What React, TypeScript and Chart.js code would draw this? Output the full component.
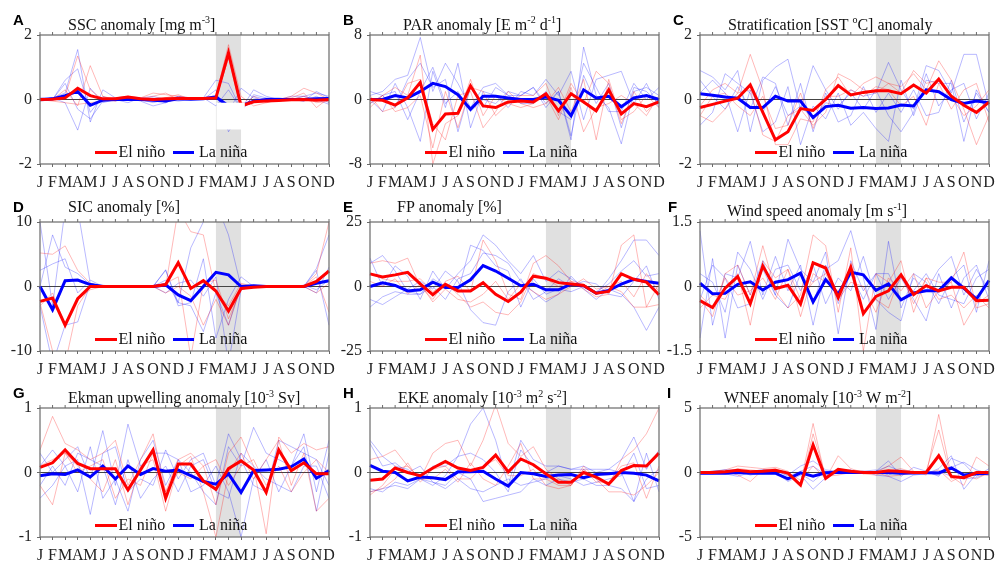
import React, { useEffect, useRef } from "react";
import { Chart, registerables } from "chart.js";

Chart.register(...registerables);

const MONTHS = ["J","F","M","A","M","J","J","A","S","O","N","D","J","F","M","A","M","J","J","A","S","O","N","D"];

// ---------- A: SSC ----------
const A_EL = [0, 0.01, 0.05, 0.35, 0.12, 0.02, 0.02, 0.08, 0.02, 0, 0.02, 0.03, 0.03, 0.03, 0.05, 1.45, -0.2, -0.07, -0.05, -0.03, -0.01, 0, -0.02, 0];
const A_LA = [0, 0.02, 0.12, 0.25, -0.18, -0.02, 0, 0, 0, -0.02, -0.05, 0.02, 0.01, 0.02, 0.08, -0.2, -0.2, -0.05, 0, 0, 0, 0, 0.02, 0.03];
const A_EL_EVENTS = [
  [0, 0.05, 0.1, 1.35, 0.3, 0, -0.05, 0.1, 0.05, 0.2, 0.15, 0.1, 0.05, 0.05, 0.1, 1.7, 0.1, -0.2, -0.1, 0, 0.1, 0.35, 0.2, 0],
  [-0.05, 0, 0.3, -0.2, 1.05, 0.1, 0, 0.05, 0, 0.1, 0.2, 0, 0.05, 0, 0.05, 1.3, -0.1, -0.1, 0, -0.05, 0, 0.1, -0.1, -0.05],
  [0, -0.05, -0.1, -0.15, -0.1, -0.05, 0.05, 0.1, 0, -0.05, 0.05, 0.15, 0, 0.05, 0, 1.3, -0.3, 0.1, -0.1, 0, 0.05, 0.2, -0.25, 0.05],
];
const A_LA_EVENTS = [
  [0, 0.05, 0.2, 1.55, -0.7, 0.3, 0.05, 0, 0, 0.05, -0.1, 0.1, 0, 0.05, 0.6, 0.5, -0.3, 0.3, 0.1, 0, 0, 0.1, 0.2, 0.1],
  [0.05, 0, 0.6, 0.95, -0.4, 0.1, -0.05, 0.05, -0.05, -0.2, -0.1, 0.05, 0.05, 0, 0.3, -1.0, -0.4, 0.15, 0.05, 0.05, 0, -0.05, 0.1, -0.1],
  [0, 0.05, -0.1, -0.95, 0.35, -0.1, 0, -0.1, 0.05, 0.1, 0, -0.05, 0, 0.05, -0.2, 0.3, -0.3, 0.1, 0, 0, 0.1, 0.1, 0, -0.15],
  [-0.05, 0, 0.5, -0.3, -0.6, -0.05, 0, 0.05, 0, -0.1, 0, 0.1, 0.05, 0, 0.1, -0.4, 0.35, 0.05, -0.05, 0, 0, -0.05, 0.25, 0.05],
];

// ---------- B: PAR ----------
const B_EL = [0, -0.1, -0.7, 0.2, 2.1, -3.7, -1.8, -1.7, 1.7, -0.8, -1.0, -0.3, -0.2, -0.3, 0.7, -1.4, 0.7, -0.3, -1.4, 1.2, -1.8, -0.5, -0.9, -0.3];
const B_LA = [0, 0, 0.5, 0.2, 1.0, 2.0, 1.6, 0.6, -1.2, 0.4, 0.4, 0.2, 0, 0, 0.3, -0.1, -2.0, 1.2, 0.2, 0.4, -0.9, 0.2, 0.5, 0];
const B_EL_EVENTS = [
  [-1, 0.5, 1.5, 0.5, 5.5, -8, -3, -2, 2.5, -2, 0.5, -0.5, 0.5, 0.5, 2, -2, 2, -0.5, 3.5, 2, -3, 1, -1.5, 0],
  [0.5, -1.5, -1, 2, 2.5, -3, -5, 0.5, 1, -3.5, -1.5, 1, -0.5, -1, -0.5, 1.5, -1.5, 2.5, -5, 2.5, -2.5, -1.5, 0.5, -1],
  [-0.5, 0.5, -1.5, -1, 0.5, -6, 1, -3.5, 1.5, 1, -2, -0.5, -1, -0.5, 0.5, -2.5, 1.5, -4, -1, -0.5, 0.5, -0.5, -2, 0.5],
];
const B_LA_EVENTS = [
  [0.5, 1, 2.5, 3, 7.7, 1, 4.5, 2, -1, 1.5, 2, 0.5, 0.5, 1.5, -1, 1, -5, 6.5, 0.5, -1, -5.5, 1, 1.5, 0.5],
  [0, -1.5, 2, -1, -5.2, 3.5, -1, 4.5, -3.5, 1, 0.5, -1, 1, 0.5, 2.5, 0.5, 3.5, -2.5, 2.5, 3, 3.5, -0.5, 2, -1],
  [1, 0.5, -1, 2.5, 4.5, 1.5, 2.5, -4, 1.5, -1, 1.5, 0.5, -0.5, -0.5, 1, -1.5, -2.5, 4.5, 1.5, -1.5, -1.5, 2, 0, 1.5],
  [-0.5, 0.5, 1, -2.5, 1, 4, -0.5, 1, -1.5, 0, -0.5, 1, 0.5, 1.5, -0.5, 1, -4.5, 3, -0.5, 2, -3.5, 1.5, 1, -0.5],
];

// ---------- C: Stratification ----------
const C_EL = [-0.25, -0.15, -0.05, 0.04, 0.45, -0.4, -1.25, -1.0, -0.28, -0.34, 0, 0.43, 0.14, 0.22, 0.27, 0.27, 0.18, 0.45, 0.2, 0.63, 0.1, -0.18, -0.4, -0.08];
const C_LA = [0.18, 0.13, 0.08, 0.04, -0.25, -0.25, 0.1, -0.05, -0.05, -0.56, -0.22, -0.18, -0.27, -0.25, -0.28, -0.26, -0.17, -0.2, 0.3, 0.24, 0, -0.12, -0.05, -0.1];
const C_EL_EVENTS = [
  [-0.5, -0.7, -0.3, 0.2, 1.4, 0.3, -1.4, -1.4, -0.6, -0.7, 0.3, 0.7, 0.1, 0.5, 0.7, 0.5, 0.4, 0.8, 0.3, 1.2, 0.6, -0.3, -1.4, -0.5],
  [-0.2, 0.3, 0.5, 0.2, 0.3, -1.1, -1.3, -0.5, -0.3, -0.8, -0.4, 0.8, 0.6, 0.3, 0.2, 0.5, 0.2, 0.9, 0.5, 0.6, 0.1, -0.5, -0.2, 0.3],
  [-0.5, 0.1, 0.2, -0.2, -0.5, 0.1, -0.9, -0.8, 0.2, -0.9, 0.1, 0.1, 0.3, 0.1, 0.4, 0.3, -0.2, 0.1, -0.8, 0.5, -0.3, 0.3, 0.5, -0.7],
];
const C_LA_EVENTS = [
  [0.9, 0.7, 0.3, 0.9, -1.0, 0.6, 1.0, 1.25, -0.3, 1.05, 0.3, -0.3, 0.3, 0.1, 0.2, 1.15, 0.3, -0.3, 1.05, 0.9, 0.2, 1.4, 1.4, -0.2],
  [-0.8, -0.4, 0.8, 0.5, 0.2, -1.0, -0.7, 0.4, -1.4, -0.2, -0.6, 0.2, -0.8, -0.4, -0.9, -1.3, 0.6, -0.5, 0.6, 0.5, 0.5, -1.3, 0.3, -0.4],
  [0.2, 0.6, 0.2, -1.0, 0.3, -0.4, 0.4, -0.5, -0.2, -0.6, -0.1, -0.2, 0.2, -0.3, 0.3, -0.5, -1.0, -0.4, 0.8, -0.2, 0.3, 0.5, -0.6, 0.2],
  [0.6, 0.1, -0.3, 0.4, -0.3, 0.7, 0.5, -0.8, 0.5, -1.0, 0.2, -0.7, -0.5, 0.4, -0.4, 0.2, -0.4, 0.3, -0.5, -0.4, 0.6, -0.7, 0.2, -0.4],
];

// ---------- D: SIC ----------
const D_EL = [-2.3, -1.8, -6.0, -1.9, 0, 0, 0, 0, 0, 0, 0.3, 3.7, -0.3, 0.9, -0.7, -3.8, -0.3, -0.1, 0, 0, 0, 0, 0.8, 2.4];
const D_LA = [0, -3.6, 0.9, 1.0, 0.3, 0, 0, 0, 0, 0, 0.25, -1.3, -2.2, 0, 2.2, 1.8, 0, 0.1, 0, 0, 0, 0, 0.5, 0.9];
const D_EL_EVENTS = [
  [5.2, 5.0, 6.3, 2.5, 0.5, 0, 0, 0, 0, 0, 0, 12, 8.5, 8.0, -1, -3, 0.5, 0, 0, 0, 0, 0, 2, 10],
  [-2.5, -10, -12, -3, 0, 0, 0, 0, 0, 0, 0.5, 1.5, -11, 0.5, 1, -5, -0.5, 0, 0, 0, 0, 0, -1, 0.5],
  [-3, -1, -6, -2, -0.5, 0, 0, 0, 0, 0, -1, 0, -1.5, -6, -2, -6, 0.3, 0, 0, 0, 0, 0, 1.5, -4],
];
const D_LA_EVENTS = [
  [10, -3, 12, 12, 0.5, 0, 0, 0, 0, 0, 2.5, -2.5, 6, 10, 13, 8, 0, 0, 0, 0, 0, 0, 2.8, 8],
  [2.5, 3.5, 4.3, -1, 1, 0, 0, 0, 0, 0, 2.6, -3, -2.5, 4.3, -8, -2, 1.5, 0, 0, 0, 0, 0, 2.5, -6],
  [-3, -12, -6, -5.5, 0.5, 0, 0, 0, 0, 0, -1, 0.5, 1, -1.5, 1.5, -12, -0.5, 0, 0, 0, 0, 0, -1, 3],
  [0, 8, 3, 2, 0.3, 0.2, 0, 0, 0, 0, 1, -2.5, -3, -7, -1, -6, 0, 0, 0, 0, 0, 0.2, -0.5, 1],
];

// ---------- E: FP ----------
const E_EL = [4.9, 3.7, 4.5, 5.5, 1, -3.2, 0.9, -1.7, -1.7, 1.5, -3, -5.8, -2.2, 4, 3.2, 1.5, 1, 0.4, -2.6, -1.9, 4.9, 2.8, 1.7, -3.2];
const E_LA = [0, 1.4, 0.4, -1.7, -1.3, 1.7, -0.4, -0.4, 2.6, 8.1, 6, 3.2, 0.3, 0.9, -1.3, -1.3, 0.9, 0.3, -2.6, -1.5, 0.9, 2.8, 1.9, 1.3];
const E_EL_EVENTS = [
  [9, 10, 9, 11, 0, -5, 2, 4, -2, 18, 10, -3, -5, 9, 12, 8, 2, -1, -4, -3, 16, 20, -8, -7],
  [5, 3, 2, 2, 3, -2, 1, -3, -8, -6, -10, -11, -6, 5, 3, 0, 2, 1, -3, 0, 2, -4, 5, -2],
  [2, 0, 3, -3, 1, -6, -1, -5, -6, -3, 2, -5, 1, -2, -5, -3, 0, 3, -1, 0, -2, -8, -8, 1],
];
const E_LA_EVENTS = [
  [11, 0, 8, 4, -5, 6, -1, 5, 10, 20, 16, 10, 5, 12, 2, 6, 3, 0, -3, 3, 10, 18, 18, 12],
  [-8, -4, -2, -3, -3, 0, -5, 3, 5, 13, 12, 9, 2, -2, -6, -3, 4, -1, -5, -1, -3, -8, -17, -8],
  [9, 12, 6, -2, -3, 3, 0, -2, 16, 14, 8, 6, -8, 3, -3, -1, -2, 0, -2, 1, 6, 10, 4, 5],
  [-5, -7, -4, -1, 2, -1, 6, 2, -9, -14, -15, -2, 3, -5, -2, 3, 0, 2, 1, -3, -4, 2, 8, -5],
];

// ---------- F: Wind speed ----------
const F_EL = [-0.33, -0.49, -0.04, 0.23, -0.4, 0.48, -0.05, 0.03, -0.41, 0.55, 0.43, -0.26, 0.45, -0.63, -0.23, -0.1, 0.27, -0.19, 0.02, -0.1, -0.02, -0.02, -0.33, -0.32];
const F_LA = [0.08, -0.17, -0.16, 0.05, 0.11, -0.08, 0.1, 0.16, 0.31, -0.36, 0.16, -0.18, 0.33, 0.27, -0.09, 0.06, -0.31, -0.15, -0.1, -0.1, 0.2, -0.04, -0.29, 0.14];
const F_EL_EVENTS = [
  [-0.3, -0.7, 0.3, 0.5, -0.2, 0.95, -0.1, -0.5, -0.2, 1.2, 0.95, -0.6, 0.9, -1.5, 0.3, 0.1, 0.6, -0.6, 0.2, 0.1, 0.1, 0.8, -0.5, -0.4],
  [-0.5, -0.2, -0.3, 0.3, -0.9, 0.6, 0.2, 0.4, -0.7, 0.3, 0.1, -0.1, 0.3, -0.6, -0.3, -0.5, 0.3, -0.4, 0.2, -0.3, -0.2, -0.5, -0.2, -0.5],
  [-0.2, -0.5, 0.2, -0.2, -0.1, 0.2, -0.3, 0.4, -0.3, 0.1, 0.3, -0.3, 0.1, 0, -0.6, 0.2, -0.1, 0.3, -0.5, -0.1, 0.1, -0.9, -0.4, -0.2],
];
const F_LA_EVENTS = [
  [1.3, -0.9, 0.3, 0.2, 1.05, -0.2, 0.7, -0.1, 0.5, -0.9, 0.4, 0.6, 1.3, 0.2, -1.0, 1.05, -0.5, 0.2, -0.1, 0.4, 0.7, -0.2, 0.4, -0.1],
  [-1.2, 0.65, -1.2, 0.5, -0.2, 0.6, -0.2, 1.1, 0.4, 0.1, 0.8, -1.1, 0.6, -0.1, 0.3, -0.3, 0.2, -0.3, -0.8, 0.3, -0.5, 0.2, 0.5, -0.3],
  [0.3, 0.1, -0.6, 0.8, 0.4, -0.3, 0.4, 0.5, -0.1, 0.5, -0.4, 0.2, -0.1, 0.7, -0.3, -0.6, -0.8, 0.3, 0.1, -0.4, 0.2, 0.5, -0.6, 0.6],
  [-0.3, 0.5, 0.2, -0.5, -0.4, 0.4, -0.2, -0.5, 0.3, -0.4, 0.5, -0.4, 0.3, -0.3, 0.3, 0.3, -0.3, -0.1, 0.3, -0.2, -0.3, -0.4, 0.2, 0.4],
];

// ---------- G: Ekman upwelling ----------
const G_EL = [0.08, 0.15, 0.35, 0.14, 0.06, 0.06, 0.06, -0.27, 0.04, 0.35, -0.4, 0.13, 0.13, -0.13, -0.26, 0.06, 0.18, 0.04, -0.31, 0.35, 0.03, 0.15, -0.02, -0.02];
const G_LA = [-0.05, -0.02, -0.03, 0.04, -0.07, 0.1, -0.1, 0.1, -0.03, 0.06, 0.02, 0.04, -0.05, -0.14, -0.18, -0.02, -0.31, 0.03, 0.04, 0.05, 0.09, 0.21, -0.09, 0.03];
const G_EL_EVENTS = [
  [0.35, 0.87, 0.45, 0.35, 0.2, 0.3, 0.5, -0.2, 0.2, 0.6, -0.3, 0.2, 0.3, 0.1, -0.5, 0.3, 0.55, 0.1, -0.95, 0.55, 0.3, 0.45, 0.35, 0.4],
  [-0.2, -0.5, 0.3, 0.1, -0.1, -0.3, 0.2, -0.5, 0.1, 0.2, -0.6, 0.1, 0.25, -0.3, -1.0, 0, 0.3, -0.1, 0.2, 0.5, -0.2, 0.3, -0.6, -0.4],
  [0.1, 0.2, 0.3, 0, 0.1, 0.2, -0.4, -0.1, -0.2, 0.3, -0.3, 0, -0.1, 0.1, 0.2, -0.2, 0.1, 0.2, -0.2, 0.1, -0.3, 0, 0.2, 0],
];
const G_LA_EVENTS = [
  [0.3, 0, 0.2, 0.4, -0.1, 0.65, -0.2, 0.75, 0.1, 0.3, 0.3, 0.2, 0, -0.3, -0.5, 0.4, 0.1, 0.7, 0.3, 0.2, 0.1, 0.6, -0.3, 0.5],
  [-0.4, -0.2, 0.1, -0.3, 0.4, -0.4, -0.1, -0.6, 0.2, 0.5, -0.2, 0.2, -0.3, -0.2, 0.1, -0.3, -1.0, -0.1, 0.2, -0.3, 0.1, 0.4, -0.6, 0.3],
  [0.1, 0.35, 0.1, 0.2, -0.65, 0.3, 0.4, -0.3, -0.1, -0.2, 0.35, -0.1, 0.2, 0.3, -0.2, 0.6, 0.2, -0.2, -0.3, 0.5, 0.4, 0.3, 0.2, -0.2],
  [-0.2, 0.1, -0.2, 0.3, 0.2, 0.1, -0.5, 0.2, -0.4, -0.1, 0.1, -0.3, 0.1, 0.2, -0.3, -0.4, 0.3, 0.1, -0.1, -0.2, -0.3, 0.1, 0.1, -0.4],
];

// ---------- H: EKE ----------
const H_EL = [-0.12, -0.1, 0.07, 0, -0.05, 0.07, 0.17, 0.07, 0.03, 0.08, 0.27, 0.01, 0.21, 0.12, -0.02, -0.15, -0.15, 0, -0.07, -0.18, 0.03, 0.11, 0.1, 0.3];
const H_LA = [0.11, 0.02, 0, -0.13, -0.07, -0.08, -0.11, 0.01, 0.01, 0.02, -0.1, -0.21, 0, -0.02, -0.06, -0.04, -0.03, -0.08, -0.03, -0.02, 0, -0.01, -0.04, -0.13];
const H_EL_EVENTS = [
  [0.2, 0.25, 0.35, 0.1, -0.1, 0.3, 0.45, 0.5, 0.1, 0.5, 1.05, 0.45, 0.25, 0.4, 0.05, -0.1, -0.2, 0.1, -0.1, -0.2, 0.2, 0.35, 0.6, 1.0],
  [-0.35, -0.2, 0.05, 0.1, -0.1, -0.1, 0.05, -0.15, 0.15, -0.1, -0.2, 0.1, 0.45, -0.1, -0.1, -0.2, -0.2, 0.05, -0.1, -0.3, -0.3, -0.35, -0.2, 0],
  [-0.3, -0.25, -0.1, 0.15, -0.15, 0.05, 0.1, -0.1, -0.1, 0.1, 0.2, -0.05, -0.05, 0.05, -0.2, -0.25, -0.2, 0.05, -0.15, -0.15, 0.1, 0.15, -0.4, 0.1],
];
const H_LA_EVENTS = [
  [0.5, 0.25, 0.1, 0.05, -0.1, 0.1, 0.1, 0.25, 0.75, 1.0, 0.5, -0.2, 0.5, 0.2, 0.1, 0.1, 0.05, 0.1, 0, 0.05, 0.2, 0.55, 0.05, 0.35],
  [-0.25, -0.3, -0.15, -0.2, -0.1, -0.2, -0.05, 0.25, 0.3, 0.2, 0, -0.3, 0.35, 0.1, 0, 0.1, 0.05, 0.05, 0.05, 0.05, 0, -0.45, 0.3, -0.3],
  [0.45, 0.1, 0.15, 0, 0.1, -0.15, -0.2, 0, -0.1, -0.45, -0.4, -0.35, -0.3, -0.1, -0.2, -0.1, -0.15, -0.1, -0.2, -0.2, -0.25, -0.45, -0.1, 0.05],
  [-0.3, -0.25, -0.2, -0.25, -0.1, -0.15, -0.25, -0.1, -0.25, -0.3, -0.2, -0.1, -0.2, -0.15, -0.1, -0.05, -0.1, -0.2, -0.15, -0.1, -0.05, 0.3, -0.25, -0.2],
];

// ---------- I: WNEF ----------
const I_EL = [0, 0, 0.05, 0.18, 0.05, 0.1, 0.18, -0.05, -0.97, 2.15, -0.45, 0.25, 0.1, 0, 0, 0.13, 0.08, 0, 0, 1.3, -0.3, -0.4, 0, 0];
const I_LA = [-0.05, -0.05, -0.05, 0, -0.05, -0.05, -0.05, -0.5, -0.03, -0.28, -0.02, 0.02, 0, 0, 0, 0, -0.05, -0.03, -0.02, -0.03, 0.36, -0.2, -0.1, -0.05];
const I_EL_EVENTS = [
  [0, 0.05, 0.2, 0.5, 0.4, 0.3, 0.4, 0.1, -0.9, 3.8, -0.5, 1.3, 0.3, 0, 0, 0.5, 1.2, 0.1, -0.2, 4.5, -0.3, -1.0, 1.2, 0.5],
  [0, 0.1, 0.1, -0.2, -0.7, 0.2, 0.3, -0.2, -1.1, 3.0, -0.3, -0.2, 0, 0.1, 0, -0.3, -0.2, 0, 0.1, 3.3, -0.5, -0.3, -0.2, -0.2],
  [0, -0.1, 0, 0.3, 0.2, 0.1, 0, 0, -0.6, 0.5, -0.5, 0.2, 0.1, -0.1, -0.2, 0.1, 0.3, 0, -0.1, 0.2, -0.7, -0.2, -0.5, 0],
];
const I_LA_EVENTS = [
  [0, 0.1, 0.2, 0, 0.1, 0.2, 0.1, -0.2, 0.5, 0.9, 0.2, 0.1, 0.2, -0.1, 0.1, 0.9, -0.3, 0.4, 0.1, -0.3, 1.1, 0.7, -0.3, 0.3],
  [-0.1, 0, -0.1, -0.3, 0, -0.1, 0, -0.7, -0.2, -1.3, -0.4, 0, 0.1, 0.1, -0.2, -0.3, -0.7, -0.2, -0.1, 0.3, 1.3, -1.3, -0.1, -0.2],
  [0, 0.1, 0.2, 0.2, 0.1, 0.2, 0.2, -0.3, 0.1, 0.5, -0.2, 0.1, 0, 0.1, 0.2, -0.2, 0.2, 0, 0, -0.2, 0.4, 0.8, 0.2, -0.1],
  [-0.1, -0.1, 0, 0.1, -0.2, 0, -0.1, -0.5, -0.1, -0.7, 0.1, -0.1, 0, 0, 0.1, 0.5, 0.1, -0.1, 0, 0.1, -0.3, -0.5, -0.4, 0],
];

const AXIS_MAX = { A: 2, B: 8, C: 2, D: 10, E: 25, F: 1.5, G: 1, H: 1, I: 5 };

type Seg = [string, boolean];
const TITLES: Record<string, Seg[]> = {
  A: [["SSC anomaly [mg m", false], ["-3", true], ["]", false]],
  B: [["PAR anomaly [E m", false], ["-2", true], [" d", false], ["-1", true], ["]", false]],
  C: [["Stratification [SST ", false], ["o", true], ["C] anomaly", false]],
  D: [["SIC anomaly [%]", false]],
  E: [["FP anomaly [%]", false]],
  F: [["Wind speed anomaly [m s", false], ["-1", true], ["]", false]],
  G: [["Ekman upwelling anomaly [10", false], ["-3", true], [" Sv]", false]],
  H: [["EKE anomaly [10", false], ["-3", true], [" m", false], ["2", true], [" s", false], ["-2", true], ["]", false]],
  I: [["WNEF anomaly [10", false], ["-3", true], [" W m", false], ["-2", true], ["]", false]],
};

const PANELS = [
  { id: "A", col: 0, row: 0, el: A_EL, la: A_LA, elEv: A_EL_EVENTS, laEv: A_LA_EVENTS, tx: 28, ty: 5.5, lx: 13, mask: true },
  { id: "B", col: 1, row: 0, el: B_EL, la: B_LA, elEv: B_EL_EVENTS, laEv: B_LA_EVENTS, tx: 33, ty: 5.5, lx: 13, mask: false },
  { id: "C", col: 2, row: 0, el: C_EL, la: C_LA, elEv: C_EL_EVENTS, laEv: C_LA_EVENTS, tx: 28, ty: 5.5, lx: 13, mask: false },
  { id: "D", col: 0, row: 1, el: D_EL, la: D_LA, elEv: D_EL_EVENTS, laEv: D_LA_EVENTS, tx: 28, ty: 10, lx: 13, mask: false },
  { id: "E", col: 1, row: 1, el: E_EL, la: E_LA, elEv: E_EL_EVENTS, laEv: E_LA_EVENTS, tx: 27, ty: 10, lx: 13, mask: false },
  { id: "F", col: 2, row: 1, el: F_EL, la: F_LA, elEv: F_EL_EVENTS, laEv: F_LA_EVENTS, tx: 27, ty: 6, lx: 8, mask: false },
  { id: "G", col: 0, row: 2, el: G_EL, la: G_LA, elEv: G_EL_EVENTS, laEv: G_LA_EVENTS, tx: 28, ty: 5, lx: 13, mask: false },
  { id: "H", col: 1, row: 2, el: H_EL, la: H_LA, elEv: H_EL_EVENTS, laEv: H_LA_EVENTS, tx: 28, ty: 5, lx: 13, mask: false },
  { id: "I", col: 2, row: 2, el: I_EL, la: I_LA, elEv: I_EL_EVENTS, laEv: I_LA_EVENTS, tx: 24, ty: 5, lx: 7, mask: false },
];

const COL_X = [40, 370, 700];
const ROW_Y = [35, 222, 408];
const AXIS_W = 40;
const TOP_PAD = 35;
const RIGHT_PAD = 14;
const PLOT_W = 289;
const PLOT_H = 129;
const X_AXIS_H = 24;
const CW = AXIS_W + PLOT_W + RIGHT_PAD;
const CH = TOP_PAD + PLOT_H + X_AXIS_H;

const SERIF = '"Liberation Serif", "Times New Roman", Times, serif';
const RED = "#ff0000";
const BLUE = "#0000ff";
const RED_THIN = "rgba(255,0,0,0.28)";
const BLUE_THIN = "rgba(0,0,255,0.28)";
const FRAME = "#6a6a6a";

function Panel({ p }: { p: any }) {
  const ref = useRef<HTMLCanvasElement | null>(null);
  useEffect(() => {
    if (!ref.current) return;
    const max = (AXIS_MAX as any)[p.id];
    const datasets: any[] = [
      { label: "El niño", data: p.el, borderColor: RED, borderWidth: 3 },
      { label: "La niña", data: p.la, borderColor: BLUE, borderWidth: 3 },
      ...p.elEv.map((d: number[], i: number) => ({ label: "El niño event " + (i + 1), data: d, borderColor: RED_THIN, borderWidth: 1 })),
      ...p.laEv.map((d: number[], i: number) => ({ label: "La niña event " + (i + 1), data: d, borderColor: BLUE_THIN, borderWidth: 1 })),
    ].map((ds) => ({ ...ds, pointRadius: 0, tension: 0, fill: false, borderJoinStyle: "miter" }));

    const deco = {
      id: "deco" + p.id,
      beforeDatasetsDraw(chart: any) {
        const { ctx, chartArea: a, scales } = chart;
        const x = scales.x, y = scales.y;
        ctx.save();
        ctx.fillStyle = "#e0e0e0";
        const x0 = x.getPixelForValue(14), x1 = x.getPixelForValue(16);
        ctx.fillRect(x0, a.top, x1 - x0, a.bottom - a.top);
        const y0 = y.getPixelForValue(0);
        ctx.strokeStyle = "#444";
        ctx.lineWidth = 1.2;
        ctx.beginPath();
        ctx.moveTo(a.left, y0);
        ctx.lineTo(a.right, y0);
        ctx.stroke();
        ctx.restore();
      },
      afterDatasetsDraw(chart: any) {
        const { ctx, chartArea: a, scales } = chart;
        const x = scales.x, y = scales.y;
        ctx.save();
        if (p.mask) {
          const mx0 = x.getPixelForValue(14.05), mx1 = x.getPixelForValue(16.3);
          const my0 = y.getPixelForValue(-0.1), my1 = y.getPixelForValue(-0.93);
          ctx.fillStyle = "#ffffff";
          ctx.fillRect(mx0, my0, mx1 - mx0, my1 - my0);
        }
        // legend
        const ly = a.bottom - 11.5;
        const tb = a.bottom - 7.5;
        ctx.lineWidth = 3;
        ctx.strokeStyle = RED;
        ctx.beginPath(); ctx.moveTo(a.left + 55, ly); ctx.lineTo(a.left + 77, ly); ctx.stroke();
        ctx.strokeStyle = BLUE;
        ctx.beginPath(); ctx.moveTo(a.left + 133, ly); ctx.lineTo(a.left + 154, ly); ctx.stroke();
        ctx.fillStyle = "#111";
        ctx.font = "16px " + SERIF;
        ctx.textBaseline = "alphabetic";
        ctx.textAlign = "left";
        ctx.fillText("El niño", a.left + 78.5, tb);
        ctx.fillText("La niña", a.left + 159, tb);
        // frame
        ctx.strokeStyle = FRAME;
        ctx.lineWidth = 1.2;
        ctx.strokeRect(a.left, a.top, a.right - a.left, a.bottom - a.top);
        // top ticks
        ctx.lineWidth = 1;
        ctx.beginPath();
        for (let i = 0; i < MONTHS.length; i++) {
          const px = x.getPixelForValue(i);
          ctx.moveTo(px, a.top);
          ctx.lineTo(px, a.top - 3);
        }
        ctx.stroke();
        // title
        let cx = a.left + p.tx;
        const by = a.top - p.ty;
        ctx.fillStyle = "#111";
        for (const [t, sup] of TITLES[p.id]) {
          ctx.font = (sup ? "10px " : "16px ") + SERIF;
          ctx.fillText(t, cx, sup ? by - 6.5 : by);
          cx += ctx.measureText(t).width;
        }
        // panel letter
        ctx.font = 'bold 15px "Liberation Sans", Arial, sans-serif';
        ctx.fillStyle = "#000";
        ctx.fillText(p.id, p.lx, a.top - 10.5);
        ctx.restore();
      },
    };

    const chart = new Chart(ref.current, {
      type: "line",
      data: { labels: MONTHS, datasets },
      options: {
        animation: false,
        responsive: false,
        devicePixelRatio: 1,
        layout: { padding: { top: TOP_PAD, right: RIGHT_PAD, left: 0, bottom: 0 } },
        plugins: { legend: { display: false }, tooltip: { enabled: false }, title: { display: false } },
        scales: {
          x: {
            type: "category",
            offset: false,
            afterFit: (s: any) => { s.height = X_AXIS_H; },
            border: { display: false },
            grid: { drawOnChartArea: false, drawTicks: true, tickLength: 3, color: FRAME },
            ticks: { autoSkip: false, maxRotation: 0, minRotation: 0, padding: 6, color: "#222", font: { family: SERIF, size: 16 } },
          },
          y: {
            min: -max,
            max: max,
            afterFit: (s: any) => { s.width = AXIS_W; },
            border: { display: false },
            grid: { drawOnChartArea: false, drawTicks: true, tickLength: 3, color: FRAME },
            ticks: { stepSize: max, padding: 5, color: "#222", font: { family: SERIF, size: 16 }, callback: (v: any) => String(v) },
          },
        },
      },
      plugins: [deco],
    } as any);
    return () => chart.destroy();
  }, [p]);

  return (
    <div style={{ position: "absolute", left: COL_X[p.col] - AXIS_W, top: ROW_Y[p.row] - TOP_PAD, width: CW, height: CH }}>
      <canvas ref={ref} width={CW} height={CH} style={{ width: CW, height: CH, display: "block" }} />
    </div>
  );
}

export default function App() {
  return (
    <div style={{ position: "fixed", left: 0, top: 0, width: 995, height: 564, background: "#fff", overflow: "hidden" }}>
      {PANELS.map((p) => <Panel key={p.id} p={p} />)}
    </div>
  );
}
